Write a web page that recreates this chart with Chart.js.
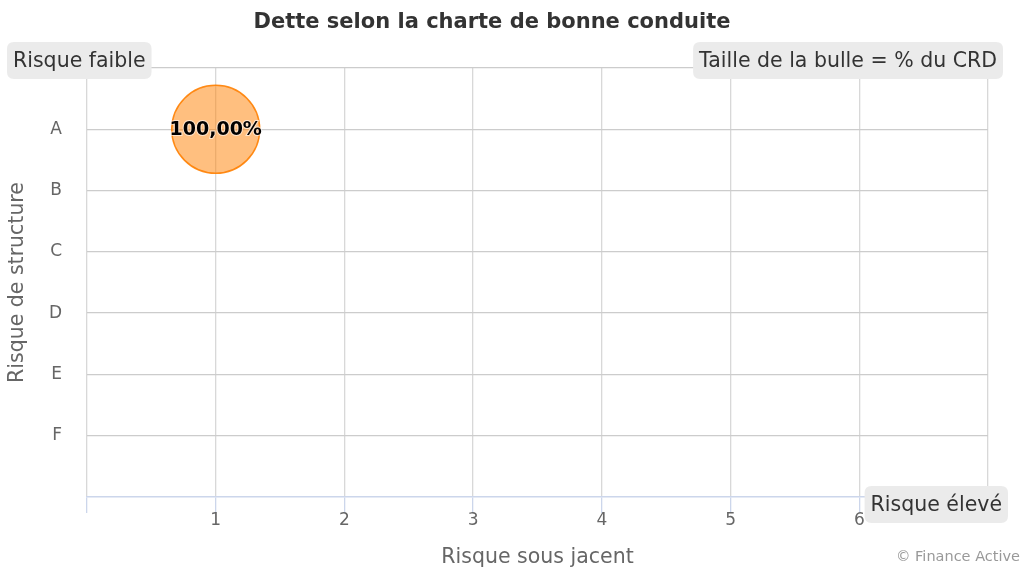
<!DOCTYPE html>
<html>
<head>
<meta charset="utf-8">
<script src="https://cdn.jsdelivr.net/npm/chart.js@4.4.1/dist/chart.umd.min.js"></script>
<style>
  html, body { margin: 0; padding: 0; background: #fff; overflow: hidden; }
  canvas { display: block; }
</style>
</head>
<body>
<canvas id="bubble-chart" width="1025" height="568"></canvas>
<script>
// categories of the structure risk (y axis), 1 = A ... 6 = F
var structureLevels = ["A", "B", "C", "D", "E", "F"];
// underlying risk (x axis) tick labels
var underlyingLevels = [1, 2, 3, 4, 5, 6];

// the bubbles : x = underlying risk, y = structure level index, share = % of CRD
var bubbleX = [1];
var bubbleY = [1];
var bubbleShare = [100];

var FONT = "'DejaVu Sans', Verdana, sans-serif";
var maxRadius = 44;

var points = bubbleX.map(function(x, i) {
	return { x: x, y: bubbleY[i], r: bubbleShare[i] / 100 * maxRadius, share: bubbleShare[i] };
});

// small labels in grey rounded boxes
var boxes = [
	{ text: "Risque faible", x: 7, y: 60.5, align: "left" },
	{ text: "Taille de la bulle = % du CRD", x: 1003, y: 60.5, align: "right" },
	{ text: "Risque élevé", x: 1008, y: 504.5, align: "right" }
];

function roundRect(ctx, x, y, w, h, r) {
	ctx.beginPath();
	ctx.moveTo(x + r, y);
	ctx.lineTo(x + w - r, y);
	ctx.quadraticCurveTo(x + w, y, x + w, y + r);
	ctx.lineTo(x + w, y + h - r);
	ctx.quadraticCurveTo(x + w, y + h, x + w - r, y + h);
	ctx.lineTo(x + r, y + h);
	ctx.quadraticCurveTo(x, y + h, x, y + h - r);
	ctx.lineTo(x, y + r);
	ctx.quadraticCurveTo(x, y, x + r, y);
	ctx.closePath();
}

var decorPlugin = {
	id: "decor",
	afterDatasetsDraw: function(chart) {
		var ctx = chart.ctx;
		ctx.save();
		// labels in the bubbles
		var meta = chart.getDatasetMeta(0);
		ctx.font = "bold 19px " + FONT;
		ctx.textAlign = "center";
		ctx.textBaseline = "middle";
		meta.data.forEach(function(el, i) {
			var txt = bubbleShare[i].toFixed(2).replace(".", ",") + "%";
			ctx.lineWidth = 2;
			ctx.strokeStyle = "rgba(255,255,255,0.6)";
			ctx.strokeText(txt, el.x, el.y + 1);
			ctx.fillStyle = "#000";
			ctx.fillText(txt, el.x, el.y + 1);
		});
		ctx.restore();
	},
	afterDraw: function(chart) {
		var ctx = chart.ctx;
		ctx.save();
		// title
		ctx.font = "bold 21px " + FONT;
		ctx.fillStyle = "#333333";
		ctx.textAlign = "center";
		ctx.textBaseline = "middle";
		ctx.fillText("Dette selon la charte de bonne conduite", 492, 23);

		// boxes
		ctx.font = "20.5px " + FONT;
		boxes.forEach(function(b) {
			var w = ctx.measureText(b.text).width + 12;
			var left = b.align === "left" ? b.x : b.x - w;
			ctx.fillStyle = "#ebebeb";
			roundRect(ctx, left, b.y - 18.5, w, 37, 7);
			ctx.fill();
			ctx.fillStyle = "#333333";
			ctx.textAlign = "left";
			ctx.textBaseline = "middle";
			ctx.fillText(b.text, left + 6, b.y + 1);
		});

		// credits
		ctx.font = "14.5px " + FONT;
		ctx.fillStyle = "#999999";
		ctx.textAlign = "right";
		ctx.fillText("© Finance Active", 1020, 557);
		ctx.restore();
	}
};

var ctx = document.getElementById("bubble-chart");

var chart = new Chart(ctx, {
	type: "bubble",
	data: {
		datasets: [{
			label: "CRD",
			data: points,
			backgroundColor: "rgba(255,128,0,0.5)",
			borderColor: "rgba(255,128,0,0.9)",
			borderWidth: 1.5
		}]
	},
	options: {
		responsive: false,
		animation: false,
		layout: { autoPadding: false, padding: { top: 68, right: 37, left: 0, bottom: 0 } },
		plugins: {
			legend: { display: false },
			title: { display: false },
			tooltip: { enabled: false }
		},
		scales: {
			x: {
				type: "linear",
				min: 0,
				max: 7,
				border: { display: true, color: "#ccd6eb", width: 1.5 },
				grid: {
					color: "#d8d8d8",
					lineWidth: 1.3,
					tickColor: "#ccd6eb",
					tickLength: 16
				},
				ticks: {
					stepSize: 1,
					padding: -3,
					color: "#666666",
					font: { family: FONT, size: 17 },
					callback: function(v) {
						return underlyingLevels.indexOf(v) >= 0 ? String(v) : "";
					}
				},
				title: {
					display: true,
					text: "Risque sous jacent",
					color: "#666666",
					font: { family: FONT, size: 20.5, lineHeight: 1 },
					padding: { top: 1, bottom: 0 }
				},
				afterFit: function(scale) {
					scale.height = 71;
					scale.paddingLeft = 0;
					scale.paddingRight = 0;
				}
			},
			y: {
				type: "linear",
				reverse: true,
				min: 0,
				max: 7,
				border: { display: false },
				grid: {
					drawTicks: false,
					lineWidth: 1.3,
					color: function(c) {
						return c.tick && c.tick.value === 7 ? "rgba(0,0,0,0)" : "#cccccc";
					}
				},
				ticks: {
					stepSize: 1,
					padding: 25,
					color: "#666666",
					font: { family: FONT, size: 17 },
					callback: function(v) {
						return structureLevels[v - 1] || "";
					}
				},
				title: {
					display: true,
					text: "Risque de structure",
					color: "#666666",
					font: { family: FONT, size: 20.5, lineHeight: 1.2 },
					padding: { top: 5, bottom: 0 }
				},
				afterFit: function(scale) {
					scale.width = 87;
					scale.paddingTop = 0;
					scale.paddingBottom = 0;
				}
			}
		}
	},
	plugins: [decorPlugin]
});
</script>
</body>
</html>
